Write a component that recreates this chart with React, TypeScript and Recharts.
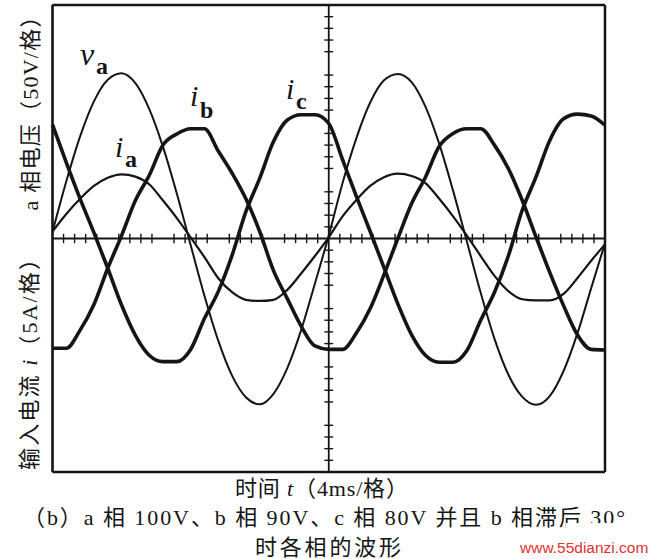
import React from "react"
import { CartesianGrid, Line, LineChart, ReferenceLine, XAxis, YAxis } from "recharts"

// time in scope divisions (4 ms / div), sampled every quarter division
const T = [
  0, 0.25, 0.5, 0.75, 1, 1.25, 1.5, 1.75, 2, 2.25, 2.5, 2.75, 3, 3.25, 3.5, 3.75, 4, 4.25, 4.5, 4.75,
  5, 5.25, 5.5, 5.75, 6, 6.25, 6.5, 6.75, 7, 7.25, 7.5, 7.75, 8, 8.25, 8.5, 8.75, 9, 9.25, 9.5, 9.75, 10,
]

// in vertical divisions
const VA = [
  0.11, 0.98, 1.75, 2.35, 2.72, 2.83, 2.66, 2.22, 1.57, 0.77, -0.11, -0.98, -1.75, -2.35, -2.72, -2.84, -2.66, -2.22, -1.57, -0.77,
  0.05, 0.95, 1.72, 2.33, 2.71, 2.82, 2.68, 2.26, 1.62, 0.82, -0.05, -0.93, -1.72, -2.33, -2.71, -2.85, -2.7, -2.27, -1.63, -0.85, -0.08,
]
const IA = [
  0.12, 0.42, 0.68, 0.9, 1.04, 1.1, 1.06, 0.93, 0.65, 0.35, 0.02, -0.32, -0.68, -0.92, -1.05, -1.07, -1.05, -0.88, -0.6, -0.3,
  0.02, 0.38, 0.66, 0.9, 1.05, 1.11, 1.07, 0.95, 0.68, 0.38, 0.05, -0.3, -0.64, -0.9, -1.04, -1.06, -1.06, -0.95, -0.68, -0.38, -0.1,
]
const IB = [
  -1.88, -1.88, -1.57, -1.13, -0.51, 0.05, 0.65, 1.08, 1.6, 1.79, 1.88, 1.88, 1.5, 1.12, 0.68, 0.12, -0.55, -1.03, -1.5, -1.84,
  -1.9, -1.9, -1.62, -1.2, -0.62, 0.0, 0.6, 1.05, 1.58, 1.8, 1.88, 1.88, 1.6, 1.2, 0.66, 0.03, -0.58, -1.15, -1.65, -1.9, -1.91,
]
const IC = [
  1.95, 1.3, 0.68, 0.1, -0.51, -1.14, -1.66, -2.0, -2.11, -2.11, -1.9, -1.37, -0.91, -0.29, 0.46, 1.03, 1.66, 2.03, 2.12, 2.12,
  1.97, 1.35, 0.72, 0.12, -0.5, -1.12, -1.65, -2.0, -2.12, -2.12, -1.92, -1.4, -0.92, -0.3, 0.48, 1.05, 1.68, 2.05, 2.13, 2.1, 1.94,
]

const X_TICKS = [0, 1, 2, 3, 4, 5, 6, 7, 8, 9, 10]
const Y_TICKS = [-4, -3, -2, -1, 0, 1, 2, 3, 4]

// graticule: 5 minor marks per division on the centre cross
const MINOR_X = Array.from({ length: 49 }, (_, k) => Math.round((k + 1) * 2) / 10).filter((v) => v % 1 !== 0)
const MINOR_Y = Array.from({ length: 39 }, (_, k) => Math.round((k - 19) * 2) / 10).filter((v) => v % 1 !== 0)

const rows = T.map((t, i) => ({ t, va: VA[i], ia: IA[i], ib: IB[i], ic: IC[i] }))

const INK = "#151515"
const GRID = "#3a3a3a"
const SERIF = "'Liberation Serif', 'Noto Sans CJK SC', serif"

export default function App() {
  return (
    <div style={{ position: "absolute", left: 0, top: 0, width: 653, height: 559, background: "#fff" }}>
      <LineChart width={653} height={559} data={rows} margin={{ top: 5, right: 48, bottom: 87, left: 52.5 }}>
        <XAxis dataKey="t" type="number" domain={[0, 10]} ticks={X_TICKS} height={0} tick={false} axisLine={false} tickLine={false} />
        <YAxis type="number" domain={[-4, 4]} ticks={Y_TICKS} width={0} tick={false} axisLine={false} tickLine={false} />
        <CartesianGrid stroke={GRID} strokeWidth={1.6} />
        <ReferenceLine x={0} stroke={INK} strokeWidth={2.5} />
        <ReferenceLine x={10} stroke={INK} strokeWidth={2.5} />
        <ReferenceLine y={4} stroke={INK} strokeWidth={2.5} />
        <ReferenceLine y={-4} stroke={INK} strokeWidth={2.5} />
        <ReferenceLine x={5} stroke={INK} strokeWidth={1.8} />
        <ReferenceLine y={0} stroke={INK} strokeWidth={1.8} />
        {MINOR_X.map((v) => (
          <ReferenceLine key={"mx" + v} segment={[{ x: v, y: -0.08 }, { x: v, y: 0.08 }]} stroke={INK} strokeWidth={1.4} />
        ))}
        {MINOR_Y.map((v) => (
          <ReferenceLine key={"my" + v} segment={[{ x: 4.92, y: v }, { x: 5.08, y: v }]} stroke={INK} strokeWidth={1.4} />
        ))}
        <Line type="monotone" dataKey="va" stroke={INK} strokeWidth={2} dot={false} isAnimationActive={false} />
        <Line type="monotone" dataKey="ia" stroke={INK} strokeWidth={2.2} dot={false} isAnimationActive={false} />
        <Line type="monotone" dataKey="ib" stroke={INK} strokeWidth={3.6} dot={false} isAnimationActive={false} />
        <Line type="monotone" dataKey="ic" stroke={INK} strokeWidth={3.6} dot={false} isAnimationActive={false} />
      </LineChart>

      <svg width={653} height={559} style={{ position: "absolute", left: 0, top: 0, pointerEvents: "none" }}>
        <g fill={INK} fontFamily={SERIF}>
          {/* trace labels */}
          <text x={80} y={65} fontSize={32} fontStyle="italic">v</text>
          <text x={96} y={74} fontSize={24} fontWeight="bold">a</text>
          <text x={115} y={157} fontSize={30} fontStyle="italic">i</text>
          <text x={125} y={167} fontSize={24} fontWeight="bold">a</text>
          <text x={190} y={106} fontSize={30} fontStyle="italic">i</text>
          <text x={200} y={118} fontSize={24} fontWeight="bold">b</text>
          <text x={286} y={99} fontSize={30} fontStyle="italic">i</text>
          <text x={296} y={109} fontSize={24} fontWeight="bold">c</text>

          {/* axis titles */}
          <text transform="translate(30,108) rotate(-90)" textAnchor="middle" dominantBaseline="central" fontSize={22} textLength={205} lengthAdjust="spacing">
            a 相电压（50V/格）
          </text>
          <text transform="translate(29,359) rotate(-90)" textAnchor="middle" dominantBaseline="central" fontSize={22} textLength={222} lengthAdjust="spacing">
            输入电流 <tspan fontStyle="italic">i</tspan>（5A/格）
          </text>
          <text x={235} y={496} fontSize={22} textLength={173} lengthAdjust="spacing">
            时间 <tspan fontStyle="italic">t</tspan>（4ms/格）
          </text>

          {/* caption */}
          <text x={23} y={525} fontSize={22} textLength={602} lengthAdjust="spacing">
            （b）a 相 100V、b 相 90V、c 相 80V 并且 b 相滞后 30°
          </text>
          <rect x={566} y={523} width={72} height={9} fill="#fff" />
          <text x={255} y={555} fontSize={22} textLength={146} lengthAdjust="spacing">
            时各相的波形
          </text>
        </g>
        <text x={520} y={553} fontSize={15.5} fill="#e3312c" fontFamily="'Liberation Sans', Arial, sans-serif">
          www.55dianzi.com
        </text>
      </svg>
    </div>
  )
}
